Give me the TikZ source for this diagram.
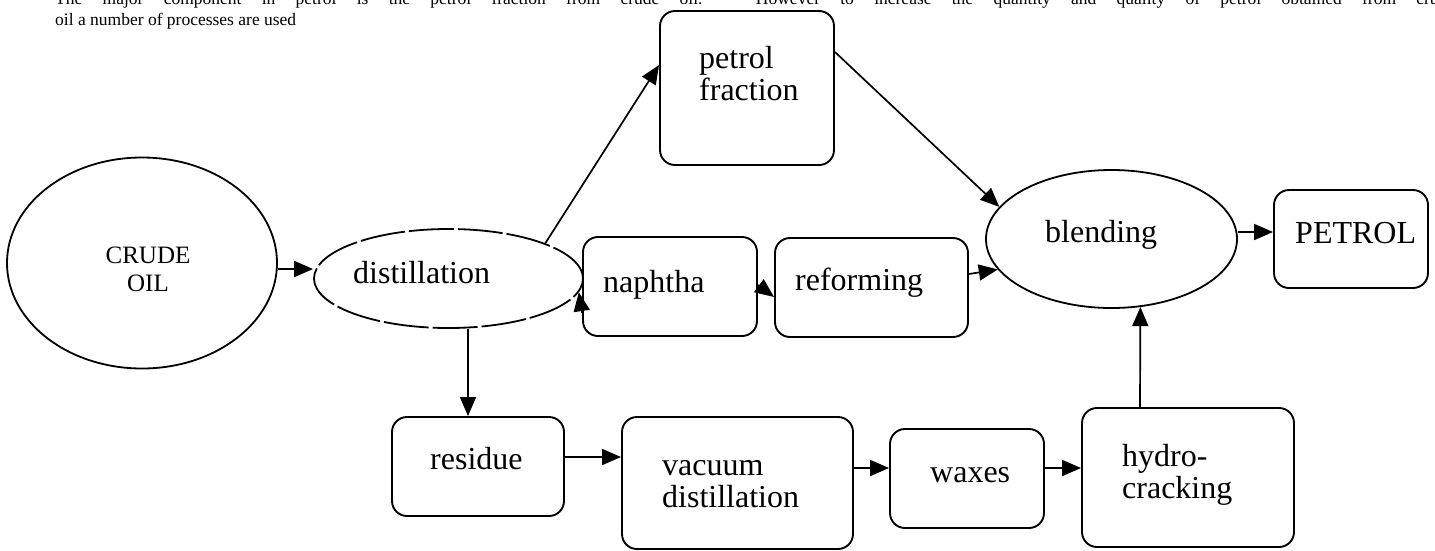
\documentclass[tikz,border=0pt]{standalone}
\usepackage{fontspec}
\setmainfont{Liberation Serif}
\usetikzlibrary{arrows.meta,shapes.geometric}
\begin{document}
\begin{tikzpicture}[x=1pt,y=-1pt,
  boxnode/.style={draw,line width=1.9pt,rounded corners=15pt,inner sep=0pt,minimum width=#1},
  ovalnode/.style={draw,ellipse,line width=1.8pt,inner sep=0pt},
  arr/.style={line width=1.7pt,-{Triangle[length=19pt,width=16pt]}},
  lbl/.style={anchor=base west,inner sep=0pt,font=\fontsize{32}{32}\selectfont,align=left},
  intro/.style={anchor=base west,inner sep=0pt,font=\fontsize{17.5}{21}\selectfont}]
\fill[white] (0,0) rectangle (1435,550);
\useasboundingbox (0,0) rectangle (1435,550);

% intro text (justified paragraph, first line cut by the top edge)
\node[intro] (intro1) at (55,4) {\makebox[1400pt][s]{The major component in petrol is the petrol fraction from crude oil. However to increase the quantity and quality of petrol obtained from crude}};
\node[intro] (intro2) at (55,25) {oil a number of processes are used};

% shapes
\node[ovalnode,minimum width=270pt,minimum height=211pt] (crude) at (142,263) {};
\node[ovalnode,dash pattern=on 45pt off 4pt,minimum width=269pt,minimum height=99pt] (dist) at (448.5,278.5) {};
\node[boxnode=174pt,minimum height=154pt] (pf) at (747,88) {};
\node[boxnode=174pt,minimum height=99pt] (naph) at (670,286.5) {};
\node[boxnode=193pt,minimum height=99pt] (ref) at (871.5,287.5) {};
\node[ovalnode,minimum width=251pt,minimum height=138pt] (blend) at (1111.5,239) {};
\node[boxnode=154pt,minimum height=98pt] (pet) at (1351,239) {};
\node[boxnode=172pt,minimum height=99pt] (res) at (478,466.5) {};
\node[boxnode=231pt,minimum height=132pt] (vac) at (737.5,483) {};
\node[boxnode=154pt,minimum height=99pt] (wax) at (967,478.5) {};
\node[boxnode=212pt,minimum height=139pt] (hyd) at (1188,477.5) {};

% labels (base = baseline of the last line)
\node[anchor=base,inner sep=0pt,font=\fontsize{25}{28}\selectfont,align=center] (tcrude) at (148,291) {CRUDE\\OIL};
\node[lbl] (tdist) at (353,283) {distillation};
\node[lbl] (tpf) at (699,100) {petrol\\fraction};
\node[lbl] (tnaph) at (603,292) {naphtha};
\node[lbl] (tref) at (795,290) {reforming};
\node[lbl] (tblend) at (1045,242) {blending};
\node[lbl] (tpet) at (1295,243) {PETROL};
\node[lbl] (tres) at (430,469) {residue};
\node[lbl] (tvac) at (662,507) {vacuum\\distillation};
\node[lbl] (twax) at (930,482) {waxes};
\node[lbl] (thyd) at (1122,498) {hydro-\\cracking};

% connectors
\draw[arr] ([yshift=-6pt]crude.east) -- ([yshift=-6pt]crude.east -| dist.west);
\draw[arr] (dist.20) -- ([yshift=23pt]pf.west);
\draw[arr] ([yshift=36pt]pf.east) -- (blend.164);
\draw[arr] ([yshift=-26.5pt]naph.west) -- (dist.-6.5);
\draw[arr] ([yshift=1.5pt]naph.east) -- ([yshift=-9.5pt]ref.west);
\draw[arr] ([yshift=13.5pt]ref.east) -- (blend.195);
\draw[arr] ([yshift=7pt]blend.east) -- ([yshift=7pt]blend.east -| pet.west);
\draw[arr] ([xshift=-10pt]res.north |- dist.south) -- ([xshift=-10pt]res.north);
\draw[arr] ([yshift=9.5pt]res.east) -- ([yshift=26pt]vac.west);
\draw[arr] ([yshift=15pt]vac.east) -- ([yshift=10.5pt]wax.west);
\draw[arr] ([yshift=10.5pt]wax.east) -- ([yshift=9.5pt]hyd.west);
\draw[arr] ([xshift=-48pt]hyd.north) -- (blend.-67);
\end{tikzpicture}
\end{document}
